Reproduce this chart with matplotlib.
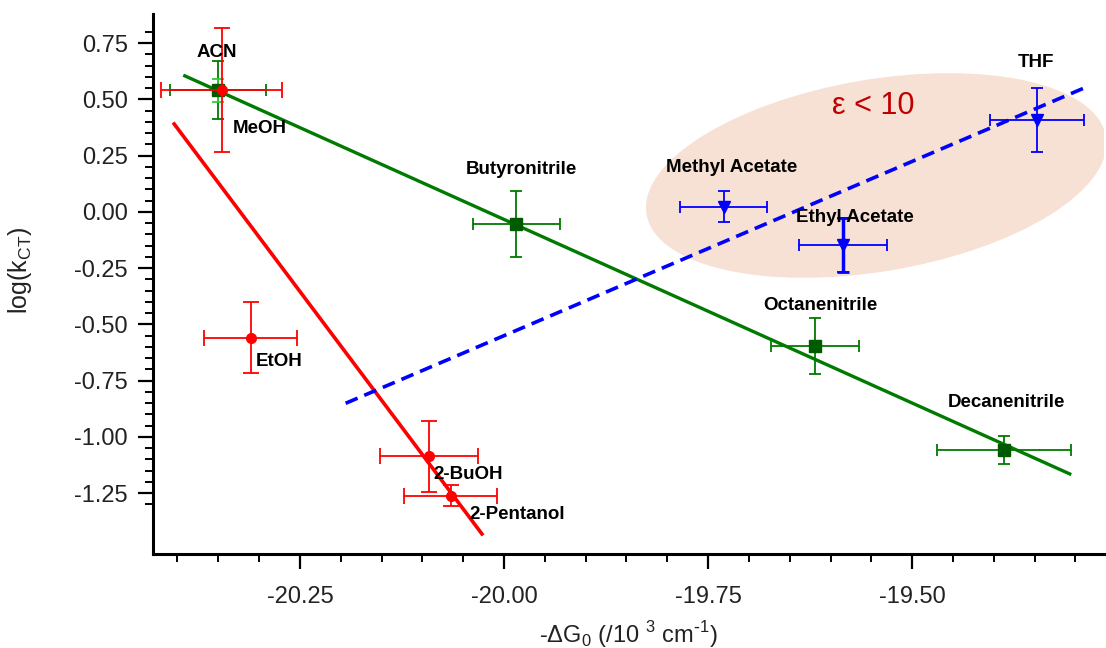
import matplotlib
matplotlib.use('Agg')
import matplotlib.pyplot as plt
import numpy as np
from matplotlib.patches import Ellipse
from matplotlib.transforms import Affine2D, ScaledTranslation
from matplotlib.ticker import MultipleLocator, FixedLocator, FormatStrFormatter

plt.rcParams['font.family'] = ['Liberation Sans', 'DejaVu Sans']

# alcohols (red)
alc_names = ['MeOH', 'EtOH', '2-BuOH', '2-Pentanol']
alc_x = [-20.346, -20.310, -20.092, -20.065]
alc_y = [0.542, -0.559, -1.087, -1.262]
alc_xerr = [0.074, 0.057, 0.060, 0.057]
alc_yerr = [0.276, 0.157, 0.159, 0.047]
alc_fit_x = [-20.404, -20.027]
alc_fit_y = [0.391, -1.432]

# nitriles (green)
nit_names = ['ACN', 'Butyronitrile', 'Octanenitrile', 'Decanenitrile']
nit_x = [-20.350, -19.985, -19.619, -19.388]
nit_y = [0.541, -0.054, -0.596, -1.058]
nit_xerr = [0.0586, 0.053, 0.0535, 0.082]
nit_yerr = [0.128, 0.146, 0.124, 0.061]
nit_fit_x = [-20.391, -19.307]
nit_fit_y = [0.605, -1.165]

# low-polarity solvents (blue)
low_names = ['Methyl Acetate', 'Ethyl Acetate', 'THF']
low_x = [-19.731, -19.585, -19.347]
low_y = [0.024, -0.147, 0.409]
low_xerr = [0.053, 0.054, 0.058]
low_yerr = [0.067, 0.121, 0.141]
low_fit_x = [-20.194, -19.290]
low_fit_y = [-0.851, 0.550]

# label anchor positions (data coords)
labels = [
    ('ACN', -20.352, 0.711, 'center'),
    ('MeOH', -20.332, 0.373, 'left'),
    ('EtOH', -20.304, -0.667, 'left'),
    ('2-BuOH', -20.087, -1.169, 'left'),
    ('2-Pentanol', -20.042, -1.347, 'left'),
    ('Butyronitrile', -19.979, 0.187, 'center'),
    ('Methyl Acetate', -19.721, 0.196, 'center'),
    ('Ethyl Acetate', -19.570, -0.027, 'center'),
    ('THF', -19.348, 0.663, 'center'),
    ('Octanenitrile', -19.613, -0.414, 'center'),
    ('Decanenitrile', -19.384, -0.849, 'center'),
]

y_major = np.arange(-1.25, 0.76, 0.25)
y_minor = np.arange(-1.30, 0.81, 0.05)

fig = plt.figure(figsize=(11.06, 6.48), dpi=100)
ax = fig.add_axes([0.1383, 0.1451, 0.8599, 0.8333])
ax.set_xlim(-20.43, -19.265)
ax.set_ylim(-1.521, 0.880)

# highlighted region (ellipse sized in inches, centred in data coords)
ell_tr = (Affine2D().scale(4.66 / 2, 1.92 / 2).rotate_deg(9.6)
          + fig.dpi_scale_trans
          + ScaledTranslation(-19.544, 0.162, ax.transData))
ell = Ellipse((0, 0), 2, 2, transform=ell_tr, facecolor='#F7E0D4',
              edgecolor='none', zorder=0)
ax.add_artist(ell)
ax.text(-19.548, 0.471, 'ε < 10', color='#C00000', fontsize=22,
        ha='center', va='center', zorder=1)

# fit lines
ax.plot(alc_fit_x, alc_fit_y, color='#FF0000', lw=2.6, zorder=2)
ax.plot(nit_fit_x, nit_fit_y, color='#007A00', lw=2.4, zorder=2)
ax.plot(low_fit_x, low_fit_y, color='#0000FF', lw=2.6,
        linestyle=(0, (3.6, 2.0)), zorder=2)

# data with error bars
ax.errorbar(nit_x, nit_y, xerr=nit_xerr, yerr=nit_yerr, fmt='s',
            color='#007A00', mfc='#005A00', mec='#005A00', ms=9,
            elinewidth=1.3, capsize=4.5, capthick=1.3, zorder=3)
ax.errorbar(nit_x[0], nit_y[0], yerr=0.052, fmt='none', ecolor='#33CC33',
            elinewidth=1.3, capsize=4.5, capthick=1.3, zorder=3)
ax.errorbar(alc_x, alc_y, xerr=alc_xerr, yerr=alc_yerr, fmt='o',
            color='#FF0000', ms=7, elinewidth=1.3, capsize=5.5,
            capthick=1.3, zorder=4)
ax.errorbar(low_x, low_y, xerr=low_xerr, yerr=low_yerr, fmt='v',
            color='#0000FF', ms=8, elinewidth=1.3, capsize=4.5,
            capthick=1.3, zorder=4)
# thicker vertical bar on Ethyl Acetate
ax.errorbar(low_x[1], low_y[1], yerr=low_yerr[1], fmt='none',
            ecolor='#0000FF', elinewidth=2.5, capsize=4.5, capthick=2,
            zorder=4)

for name, lx, ly, ha in labels:
    ax.text(lx, ly, name, fontsize=13.5, fontweight='bold', ha=ha,
            va='center', color='black', zorder=5)

# axes styling
for s in ['top', 'right']:
    ax.spines[s].set_visible(False)
for s in ['left', 'bottom']:
    ax.spines[s].set_linewidth(2.2)

ax.xaxis.set_major_locator(MultipleLocator(0.25))
ax.xaxis.set_minor_locator(MultipleLocator(0.05))
ax.yaxis.set_major_locator(FixedLocator(y_major))
ax.yaxis.set_minor_locator(FixedLocator(y_minor))
ax.xaxis.set_major_formatter(FormatStrFormatter('%.2f'))
ax.yaxis.set_major_formatter(FormatStrFormatter('%.2f'))
ax.tick_params(which='major', length=11, width=1.6, labelsize=17,
               labelcolor='#222222')
ax.tick_params(which='minor', length=6, width=1.4)
ax.tick_params(axis='x', which='major', pad=12)
ax.tick_params(axis='y', which='major', pad=7)

ax.set_xlabel('-ΔG$_\\mathregular{0}$ (/10 $^\\mathregular{3}$ cm$^\\mathregular{\\text{-}1}$)',
              fontsize=17, color='#222222', labelpad=8)
ax.set_ylabel('log(k$_\\mathregular{CT}$)', fontsize=18, color='#222222')
ax.yaxis.set_label_coords(-0.125, 0.526)

fig.savefig('out.png', dpi=100)
